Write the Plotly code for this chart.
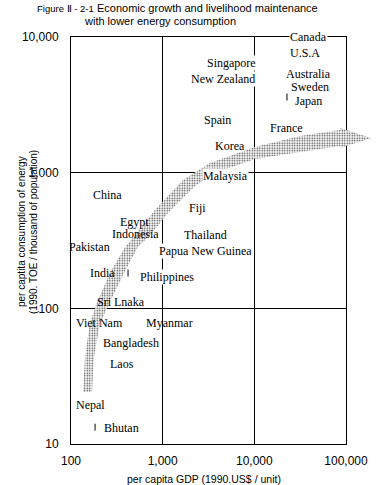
import math
import plotly.graph_objects as go

# ---------------- data ----------------
countries = ["Canada", "U.S.A", "Singapore", "New Zealand", "Australia", "Sweden", "Japan",
             "Spain", "France", "Korea", "Malaysia", "China", "Fiji", "Egypt", "Indonesia",
             "Thailand", "Pakistan", "Papua New Guinea", "India", "Philippines", "Sri Lnaka",
             "Viet Nam", "Myanmar", "Bangladesh", "Laos", "Nepal", "Bhutan"]
gdp = [38500, 35700, 5700, 4550, 38500, 40500, 39400,
       3920, 22700, 5430, 4790, 247, 2370, 499, 511,
       2900, 161, 2900, 218, 1110, 351,
       207, 1200, 452, 360, 165, 360]
energy = [10000, 7620, 6430, 4900, 5300, 4280, 3370,
          2440, 2130, 1570, 945, 684, 550, 432, 353,
          348, 283, 265, 182, 170, 111,
          78, 78, 55.5, 38.9, 19.4, 13.1]
white_bg_labels = ["Canada", "Singapore", "New Zealand", "Malaysia", "Papua New Guinea", "Philippines"]

tick_mark_gdp = [22700, 419, 183, 183]
tick_mark_energy = [3610, 182, 56.5, 13.3]

# trend arrow outline (log10 of GDP, log10 of energy)
arrow_log_gdp = [2.131, 2.153, 2.207, 2.295, 2.425, 2.589, 2.676, 2.916, 3.222, 3.516, 4.007,
                 4.498, 4.935, 4.935, 5.273, 4.935, 4.935, 4.498, 4.007, 3.571, 3.353, 3.058,
                 2.884, 2.731, 2.578, 2.436, 2.316, 2.251, 2.229]
arrow_log_energy = [1.383, 1.641, 1.892, 2.061, 2.260, 2.452, 2.518, 2.725, 2.946, 3.071, 3.189,
                    3.270, 3.315, 3.329, 3.256, 3.182, 3.197, 3.152, 3.101, 2.998, 2.902, 2.703,
                    2.555, 2.452, 2.260, 2.061, 1.892, 1.641, 1.383]

x_tick_vals = [100, 1000, 10000, 100000]
x_tick_text = ["100", "1,000", "10,000", "100,000"]
y_tick_vals = [10, 100, 1000, 10000]
y_tick_text = ["10", "100", "1,000", "10,000"]

title_fig = "Figure \u2161 - 2-1"
title_line1 = "Economic growth and livelihood maintenance"
title_line2 = "with lower energy consumption"
x_title = "per capita GDP (1990.US$ / unit)"
y_title_1 = "per captita consumption of energy"
y_title_2 = "(1990. TOE / thousand of population)"

# ---------------- layout geometry ----------------
W, H = 378, 485
ML, MR, MT, MB = 71, 0, 37, 41
PW = W - ML - MR
PH = H - MT - MB
MAIN_W = 275
main_dom = MAIN_W / PW
x2_max = 2 + 3 * PW / MAIN_W


def px(xp):
    return (xp - ML) / PW


def py(yp):
    return (H - MB - yp) / PH


SANS = "Liberation Sans"
SERIF = "Liberation Serif"

fig = go.Figure()

# trend arrow (on a wider invisible axis so it may extend past the frame)
fig.add_trace(go.Scatter(
    x=[10 ** v for v in arrow_log_gdp], y=[10 ** v for v in arrow_log_energy],
    xaxis="x2", yaxis="y2", mode="none", fill="toself",
    fillcolor="rgba(0,0,0,0)",
    fillpattern=dict(shape=".", size=2.5, solidity=0.3, fgcolor="#444444", bgcolor="white",
                     fillmode="replace"),
    hoverinfo="skip", showlegend=False))

# small tick marks
fig.add_trace(go.Scatter(
    x=tick_mark_gdp, y=tick_mark_energy, mode="markers",
    marker=dict(symbol="line-ns", size=5, line=dict(color="black", width=1)),
    hoverinfo="skip", showlegend=False))

annotations = []
for name, gx, ey in zip(countries, gdp, energy):
    a = dict(x=math.log10(gx), y=math.log10(ey), xref="x", yref="y", text=name,
             showarrow=False, xanchor="center", yanchor="middle",
             font=dict(family=SERIF, size=12, color="black"))
    if name in white_bg_labels:
        a["bgcolor"] = "white"
        a["borderpad"] = 0
    annotations.append(a)

annotations += [
    dict(x=px(35), y=py(8), xref="paper", yref="paper", text=title_fig, showarrow=False,
         xanchor="left", yanchor="middle", font=dict(family=SANS, size=9.5, color="black")),
    dict(x=px(95), y=py(8), xref="paper", yref="paper", text=title_line1, showarrow=False,
         xanchor="left", yanchor="middle", font=dict(family=SANS, size=11, color="black")),
    dict(x=px(82), y=py(21), xref="paper", yref="paper", text=title_line2, showarrow=False,
         xanchor="left", yanchor="middle", font=dict(family=SANS, size=11, color="black")),
    dict(x=px(204), y=py(479), xref="paper", yref="paper", text=x_title, showarrow=False,
         xanchor="center", yanchor="middle", font=dict(family=SANS, size=10.5, color="black")),
    dict(x=px(21), y=py(232), xref="paper", yref="paper", text=y_title_1, showarrow=False,
         xanchor="center", yanchor="middle", textangle=-90,
         font=dict(family=SANS, size=10, color="black")),
    dict(x=px(33), y=py(232), xref="paper", yref="paper", text=y_title_2, showarrow=False,
         xanchor="center", yanchor="middle", textangle=-90,
         font=dict(family=SANS, size=10, color="black")),
]

axis_common = dict(type="log", showgrid=True, gridcolor="black", gridwidth=1,
                   showline=True, linecolor="black", linewidth=1, mirror=True,
                   zeroline=False, ticks="", automargin=False,
                   tickfont=dict(family=SANS, size=12, color="black"))

fig.update_layout(
    width=W, height=H, autosize=False,
    margin=dict(l=ML, r=MR, t=MT, b=MB, pad=0),
    paper_bgcolor="white", plot_bgcolor="rgba(0,0,0,0)",
    showlegend=False,
    xaxis=dict(domain=[0, main_dom], range=[2, 5], tickvals=x_tick_vals, ticktext=x_tick_text,
               ticklabelstandoff=6, anchor="y", **axis_common),
    yaxis=dict(domain=[0, 1], range=[1, 4], tickvals=y_tick_vals, ticktext=y_tick_text,
               ticklabelstandoff=9, anchor="x", **axis_common),
    xaxis2=dict(type="log", domain=[0, 1], range=[2, x2_max], visible=False, anchor="y2",
                fixedrange=True),
    yaxis2=dict(type="log", domain=[0, 1], range=[1, 4], visible=False, anchor="x2",
                fixedrange=True),
    annotations=annotations,
)

fig.write_html("out.html", config={"responsive": False, "displayModeBar": False},
               post_script="document.body.style.margin='0';document.body.style.overflow='hidden';")
